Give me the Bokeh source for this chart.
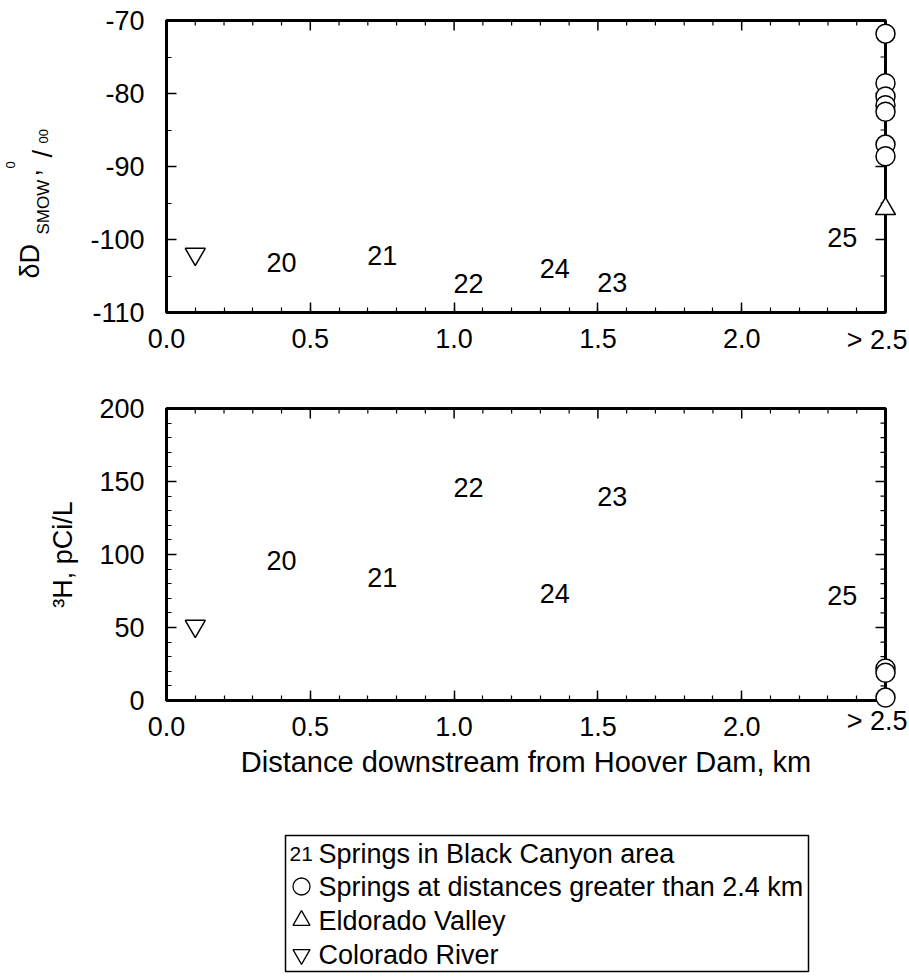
import math

from bokeh.core.properties import value
from bokeh.embed import file_html
from bokeh.layouts import column
from bokeh.models import FixedTicker, Range1d
from bokeh.plotting import figure
from bokeh.resources import INLINE

FONT = "Liberation Sans"

# ---- distance axis (km downstream from Hoover Dam) ----
x_ticks = [0.0, 0.5, 1.0, 1.5, 2.0, 2.5]
x_tick_labels = ["0.0", "0.5", "1.0", "1.5", "2.0", ""]
x_far_label = "> 2.5"
x_minor = [i / 10 for i in range(26)]
x_title = "Distance downstream from Hoover Dam, km"

# ---- deuterium panel ticks ----
dD_ticks = [-110, -100, -90, -80, -70]
dD_tick_labels = ["-110", "-100", "-90", "-80", "-70"]
dD_minor = list(range(-110, -69, 5))

# ---- tritium panel ticks ----
h3_ticks = [0, 50, 100, 150, 200]
h3_tick_labels = ["0", "50", "100", "150", "200"]
h3_minor = list(range(0, 201, 10))
h3_title = "³H, pCi/L"

# ---- springs in Black Canyon area, plotted by their number ----
spring_ids = ["20", "21", "22", "23", "24", "25"]
spring_dist = [0.40, 0.75, 1.05, 1.55, 1.35, 2.35]
spring_dD = [-103.1, -102.2, -106.0, -105.9, -104.0, -99.7]
spring_H3 = [96, 84, 146, 140, 73, 72]

# ---- springs at distances greater than 2.4 km ----
far_dist = 2.5
far_dD = [-71.8, -78.6, -80.4, -81.6, -82.5, -87.0, -88.6]
far_H3 = [22, 19, 2]

# ---- Eldorado Valley ----
eldorado_dist = [2.5]
eldorado_dD = [-95.8]

# ---- Colorado River ----
river_dist = [0.1]
river_dD = [-102.0]
river_H3 = [51]

# ---- legend entries ----
legend_key = "21"
legend_texts = [
    "Springs in Black Canyon area",
    "Springs at distances greater than 2.4 km",
    "Eldorado Valley",
    "Colorado River",
]

PAGE_W = 909
LEFT, RIGHT = 166, 24
FRAME_W = PAGE_W - LEFT - RIGHT
FRAME_H = 292
TICK_FS = "27px"
MAJOR_LEN, MINOR_LEN = 10, 5


def style_axis(ax, ticker, standoff):
    ax.ticker = ticker
    ax.axis_line_width = 3
    ax.axis_line_color = "black"
    ax.major_tick_in = MAJOR_LEN
    ax.major_tick_out = 0
    ax.minor_tick_in = MINOR_LEN
    ax.minor_tick_out = 0
    ax.major_tick_line_width = 1.5
    ax.minor_tick_line_width = 1.2
    ax.major_tick_line_color = "black"
    ax.minor_tick_line_color = "black"
    ax.major_label_text_font = FONT
    ax.major_label_text_font_size = TICK_FS
    ax.major_label_text_color = "black"
    ax.major_label_standoff = standoff
    ax.axis_label_text_font = FONT
    ax.axis_label_text_font_style = "normal"
    ax.axis_label_text_color = "black"


def inward_ticks(p, y_lo, y_hi, y_ticks, y_minor):
    """Unlabelled inward ticks along the top and right edges of the frame."""
    dy = (y_hi - y_lo) / FRAME_H   # data units per pixel, vertical
    dx = 2.5 / FRAME_W             # data units per pixel, horizontal
    xm = [v for v in x_minor if min(abs(v - t) for t in x_ticks) > 1e-9]
    ym = [v for v in y_minor if v not in y_ticks]
    for xs, ln, w in ((x_ticks, MAJOR_LEN, 1.5), (xm, MINOR_LEN, 1.2)):
        p.segment(x0=xs, y0=[y_hi] * len(xs), x1=xs, y1=[y_hi - ln * dy] * len(xs),
                  line_color="black", line_width=w)
    for ys, ln, w in ((y_ticks, MAJOR_LEN, 1.5), (ym, MINOR_LEN, 1.2)):
        p.segment(x0=[2.5] * len(ys), y0=ys, x1=[2.5 - ln * dx] * len(ys), y1=ys,
                  line_color="black", line_width=w)


def panel(y_lo, y_hi, y_ticks, y_labels, y_minor, border_top, border_bottom):
    p = figure(
        width=PAGE_W,
        height=border_top + FRAME_H + border_bottom,
        x_range=Range1d(0, 2.5),
        y_range=Range1d(y_lo, y_hi),
        output_backend="svg",
        toolbar_location=None,
        min_border_left=LEFT,
        min_border_right=RIGHT,
        min_border_top=border_top,
        min_border_bottom=border_bottom,
        background_fill_color="white",
        border_fill_color="white",
    )
    p.outline_line_color = "black"
    p.outline_line_width = 3
    p.xgrid.grid_line_color = None
    p.ygrid.grid_line_color = None

    bottom_ax = p.below[0]
    left_ax = p.left[0]
    style_axis(bottom_ax, FixedTicker(ticks=x_ticks, minor_ticks=x_minor), standoff=16)
    bottom_ax.major_label_overrides = {t: s for t, s in zip(x_ticks, x_tick_labels)}
    style_axis(left_ax, FixedTicker(ticks=y_ticks, minor_ticks=y_minor), standoff=22)
    left_ax.major_label_overrides = {t: s for t, s in zip(y_ticks, y_labels)}

    inward_ticks(p, y_lo, y_hi, y_ticks, y_minor)
    return p, bottom_ax, left_ax


def open_marker(p, x, y, marker, size):
    p.scatter(x=x, y=y, marker=marker, size=size, fill_color="white",
              line_color="black", line_width=1.5, level="overlay")


def free_text(p, x, y, text, size, align="left", baseline="middle", angle=0.0):
    p.text(x=[x], y=[y], text=[text], angle=angle, text_font=value(FONT),
           text_font_size=size, text_align=align, text_baseline=baseline,
           text_color="black", level="overlay")


def number_labels(p, x, y):
    p.text(x=x, y=y, text=spring_ids, text_font=value(FONT), text_font_size="27px",
           text_align="center", text_baseline="middle", text_color="black")


def t_x(px):
    return (px - LEFT) * 2.5 / FRAME_W


# ================= deuterium panel =================
TOP_BT, TOP_BB = 20, 58
p1, _, _ = panel(-110, -70, dD_ticks, dD_tick_labels, dD_minor, TOP_BT, TOP_BB)


def t_y(py):
    return -70 - (py - TOP_BT) * 40 / FRAME_H


number_labels(p1, spring_dist, spring_dD)
open_marker(p1, [far_dist] * len(far_dD), far_dD, "circle", 19)
open_marker(p1, eldorado_dist, eldorado_dD, "triangle", 20)
open_marker(p1, river_dist, river_dD, "inverted_triangle", 20)

free_text(p1, t_x(907), t_y(339), x_far_label, TICK_FS, align="right")

# y-axis title: delta D (SMOW), per mil, set piece by piece along a vertical baseline
up = math.pi / 2
title_bits = [
    # text, baseline x, start y, size
    ("δD", 29, 278, "27px"),
    ("SMOW", 43, 234, "17px"),
    (",", 29, 176, "27px"),
    ("0", 10, 168, "13px"),
    ("/", 42, 157, "27px"),
    ("00", 43, 143, "13px"),
]
for txt, bx, by, fs in title_bits:
    free_text(p1, t_x(bx), t_y(by), txt, fs, align="left", baseline="alphabetic", angle=up)

# ================= tritium panel =================
BOT_BT, BOT_BB = 38, 90
p2, x_axis2, y_axis2 = panel(0, 200, h3_ticks, h3_tick_labels, h3_minor, BOT_BT, BOT_BB)
y_axis2.axis_label = h3_title
y_axis2.axis_label_text_font_size = "27px"
y_axis2.axis_label_standoff = 18
x_axis2.axis_label = x_title
x_axis2.axis_label_text_font_size = "29px"
x_axis2.axis_label_standoff = 7

BOT_PAGE_TOP = TOP_BT + FRAME_H + TOP_BB


def b_y(py):
    return (BOT_PAGE_TOP + BOT_BT + FRAME_H - py) * 200 / FRAME_H


number_labels(p2, spring_dist, spring_H3)
open_marker(p2, [far_dist] * len(far_H3), far_H3, "circle", 19)
open_marker(p2, river_dist, river_H3, "inverted_triangle", 20)

free_text(p2, t_x(907), b_y(720), x_far_label, TICK_FS, align="right")

# ================= legend box =================
# the column lines up the frames, so this panel's frame spans LEFT..PAGE_W-RIGHT;
# its data units are page pixels
LEG_H = 976 - (TOP_BT + FRAME_H + TOP_BB) - (BOT_BT + FRAME_H + BOT_BB)
leg = figure(width=PAGE_W, height=LEG_H, x_range=Range1d(LEFT, PAGE_W - RIGHT),
             y_range=Range1d(LEG_H, 0), output_backend="svg", toolbar_location=None,
             min_border_left=LEFT, min_border_right=RIGHT, min_border_top=0,
             min_border_bottom=0, background_fill_color="white", border_fill_color="white")
leg.axis.visible = False
leg.grid.visible = False
leg.outline_line_color = None

box_l, box_r, box_t, box_b = 285, 808, 45, 181
leg.quad(left=[box_l], right=[box_r], top=[box_t], bottom=[box_b], fill_color=None,
         line_color="black", line_width=1.5, level="overlay")
rows = [63, 96, 130, 164]
free_text(leg, 289, rows[0], legend_key, "21px")
leg.scatter(x=[301], y=[rows[1]], marker="circle", size=17, fill_color="white",
            line_color="black", line_width=1.3, level="overlay")
leg.scatter(x=[301], y=[rows[2]], marker="triangle", size=17, fill_color="white",
            line_color="black", line_width=1.3, level="overlay")
leg.scatter(x=[301], y=[rows[3]], marker="inverted_triangle", size=17, fill_color="white",
            line_color="black", line_width=1.3, level="overlay")
for yy, txt in zip(rows, legend_texts):
    free_text(leg, 318, yy, txt, "27px")

layout = column(p1, p2, leg, spacing=0)
open("out.html", "w").write(file_html(layout, INLINE))
